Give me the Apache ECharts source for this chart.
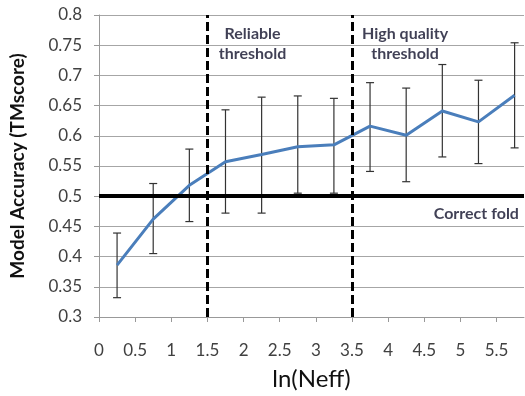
<!DOCTYPE html>
<html>
<head>
<meta charset="utf-8">
<script src="https://cdn.jsdelivr.net/npm/echarts@6.0.0/dist/echarts.min.js"></script>
<style>
    html, body { margin: 0; padding: 0; background: #fff; }
    #chart1 { width: 525px; height: 396px; }
</style>
</head>
<body>
<div id="chart1"></div>
<script>
// ln(Neff) bins
var xs = [0.25, 0.75, 1.25, 1.75, 2.25, 2.75, 3.25, 3.75, 4.25, 4.75, 5.25, 5.75];
// mean TMscore and error bar ends
var means = [0.386, 0.462, 0.518, 0.557, 0.569, 0.582, 0.585, 0.616, 0.601, 0.641, 0.623, 0.667];
var upper = [0.439, 0.521, 0.578, 0.643, 0.664, 0.666, 0.662, 0.688, 0.679, 0.718, 0.692, 0.754];
var lower = [0.332, 0.405, 0.458, 0.472, 0.472, 0.505, 0.505, 0.541, 0.524, 0.565, 0.554, 0.580];

var xTicks = [0, 0.5, 1, 1.5, 2, 2.5, 3, 3.5, 4, 4.5, 5, 5.5];
var thresholds = [1.5, 3.5];
var correctFold = 0.5;

// annotation texts and where they sit (data coords)
var notes = ['Reliable\nthreshold', 'High quality\nthreshold', 'Correct fold'];
var noteX = [2.125, 4.235, 5.81];
var noteY = [0.752, 0.752, 0.4705];
var noteAlign = ['center', 'center', 'right'];

var font = 'Lato, "Open Sans", sans-serif';

function loadchart1() {
    var chart = echarts.init(document.getElementById('chart1'));

    var lineData = xs.map(function (x, i) { return [x, means[i]]; });
    var barData = xs.map(function (x, i) { return [x, lower[i], upper[i]]; });
    var noteData = notes.map(function (t, i) {
        return {
            value: [noteX[i], noteY[i], t],
            label: { align: noteAlign[i] }
        };
    });

    var option = {
        backgroundColor: '#fff',
        animation: false,
        grid: { left: 98, right: 1, top: 15, bottom: 71 },
        xAxis: {
            type: 'value',
            min: 0,
            max: 5.88,
            interval: 0.5,
            name: 'ln(Neff)',
            nameLocation: 'middle',
            nameGap: 50,
            nameTextStyle: { fontFamily: font, fontSize: 24, color: '#111' },
            axisLine: { show: true, lineStyle: { color: '#999', width: 1 } },
            axisTick: { show: true, length: 5, customValues: xTicks, lineStyle: { color: '#999' } },
            axisLabel: { customValues: xTicks, fontFamily: font, fontSize: 17, color: '#404040', margin: 25 },
            splitLine: { show: false }
        },
        yAxis: {
            type: 'value',
            min: 0.3,
            max: 0.8,
            interval: 0.05,
            name: 'Model Accuracy (TMscore)',
            nameLocation: 'middle',
            nameGap: 72,
            nameTextStyle: { fontFamily: font, fontSize: 19, fontWeight: 'bold', color: '#111' },
            axisLine: { show: true, lineStyle: { color: '#999', width: 1 } },
            axisTick: { show: true, length: 5, lineStyle: { color: '#999' } },
            axisLabel: {
                fontFamily: font, fontSize: 17, color: '#404040', margin: 17,
                formatter: function (v) { return String(Math.round(v * 100) / 100); }
            },
            splitLine: { show: true, lineStyle: { color: '#a6a6a6', width: 1 } }
        },
        series: [
            {
                name: 'err',
                type: 'custom',
                z: 2,
                data: barData,
                renderItem: function (params, api) {
                    var x = api.value(0);
                    var top = api.coord([x, api.value(2)]);
                    var bot = api.coord([x, api.value(1)]);
                    var w = 4;
                    var st = { stroke: '#333', lineWidth: 1.2 };
                    return {
                        type: 'group',
                        children: [
                            { type: 'line', shape: { x1: top[0], y1: top[1], x2: bot[0], y2: bot[1] }, style: st },
                            { type: 'line', shape: { x1: top[0] - w, y1: top[1], x2: top[0] + w, y2: top[1] }, style: st },
                            { type: 'line', shape: { x1: bot[0] - w, y1: bot[1], x2: bot[0] + w, y2: bot[1] }, style: st }
                        ]
                    };
                }
            },
            {
                name: 'mean',
                type: 'line',
                z: 4,
                data: lineData,
                symbol: 'none',
                lineStyle: { color: '#4a7ebb', width: 3 }
            },
            {
                name: 'refs',
                type: 'line',
                z: 5,
                data: [],
                markLine: {
                    silent: true,
                    symbol: 'none',
                    label: { show: false },
                    data: [
                        { yAxis: correctFold, lineStyle: { color: '#000', width: 4, type: 'solid' } },
                        { xAxis: thresholds[0], lineStyle: { color: '#000', width: 3, type: [9, 4] } },
                        { xAxis: thresholds[1], lineStyle: { color: '#000', width: 3, type: [9, 4] } }
                    ]
                }
            },
            {
                name: 'notes',
                type: 'scatter',
                z: 6,
                symbolSize: 0,
                data: noteData,
                label: {
                    show: true,
                    position: 'inside',
                    fontFamily: font,
                    fontSize: 16,
                    fontWeight: 'bold',
                    lineHeight: 20,
                    color: '#10102a',
                    formatter: function (p) { return p.value[2]; }
                }
            }
        ]
    };
    chart.setOption(option);
}

loadchart1();
</script>
</body>
</html>
